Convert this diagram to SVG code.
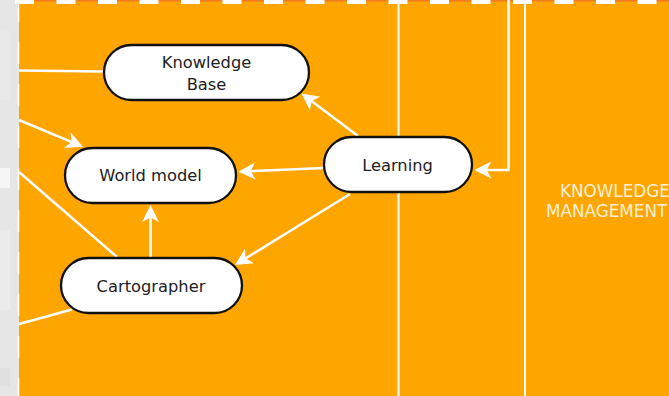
<svg xmlns="http://www.w3.org/2000/svg" width="669" height="396" viewBox="0 0 669 396">
<style>
.node rect{fill:#fff;stroke:#111;stroke-width:2.3}
.node text{font-family:"DejaVu Sans",sans-serif;font-size:16.3px;fill:#222;text-anchor:middle}
.conn line,.conn path{stroke:#fff;stroke-width:2.5;fill:none}
.lane{stroke:#fff;stroke-width:2}
.km{font-family:"DejaVu Sans",sans-serif;font-size:16.8px;fill:#fdf0d6}
</style>
<defs>
<marker id="arr" markerUnits="userSpaceOnUse" viewBox="-14 -9 20 18" refX="0" refY="0" markerWidth="20" markerHeight="18" orient="auto" overflow="visible">
<path d="M5,0 L-12,-8.5 L-7.5,0 L-12,8.5 Z" fill="#fff"/>
</marker>
</defs>
<rect x="0" y="0" width="669" height="396" fill="#e6e6e6"/>
<rect x="0" y="30" width="10" height="70" fill="#e9e9e9"/>
<rect x="0" y="168" width="10" height="20" fill="#f7f7f7"/>
<rect x="0" y="230" width="10" height="80" fill="#ebebeb"/>
<rect x="0" y="368" width="10" height="18" fill="#e0e0e0"/>
<rect x="19" y="0" width="650" height="396" fill="#ffa500"/>
<line x1="18.5" y1="0" x2="18.5" y2="396" stroke="#fff" stroke-width="1.5" stroke-dasharray="22 20"/>
<rect x="19" y="0" width="650" height="1.5" fill="#f47a22"/>
<line x1="15" y1="2" x2="669" y2="2" stroke="#fff" stroke-width="4" stroke-dasharray="19 22.5"/>
<g id="lanes">
<line class="lane" x1="398.5" y1="0" x2="398.5" y2="396"/>
<line class="lane" x1="525" y1="0" x2="525" y2="396"/>
</g>
<text class="km" x="560" y="197">KNOWLEDGE</text>
<text class="km" x="546" y="217">MANAGEMENT</text>
<g id="connectors" class="conn">
<line x1="19" y1="70.5" x2="104" y2="71.5"/>
<line x1="19" y1="120" x2="78.4" y2="144.8" marker-end="url(#arr)"/>
<line x1="19" y1="172" x2="117" y2="257"/>
<line x1="19" y1="324" x2="72" y2="309.5"/>
<line x1="358" y1="136" x2="305.5" y2="96.4" marker-end="url(#arr)"/>
<line x1="324" y1="168" x2="243.3" y2="171.5" marker-end="url(#arr)"/>
<line x1="350" y1="194" x2="239.2" y2="262.3" marker-end="url(#arr)"/>
<line x1="150.5" y1="257" x2="150.5" y2="210" marker-end="url(#arr)"/>
<path d="M508.5,0 V170 H479.3" marker-end="url(#arr)"/>
</g>
<g id="node-kb" class="node">
<rect x="104" y="45" width="205" height="55" rx="27.5"/>
<text x="206.5" y="67.5">Knowledge</text>
<text x="206.5" y="89.5">Base</text>
</g>
<g id="node-wm" class="node">
<rect x="65" y="148" width="171" height="55" rx="27.5"/>
<text x="150.5" y="180.5">World model</text>
</g>
<g id="node-learning" class="node">
<rect x="324" y="137" width="148" height="55" rx="27.5"/>
<text x="397.5" y="170.5">Learning</text>
</g>
<g id="node-carto" class="node">
<rect x="61" y="258" width="181" height="55" rx="27.5"/>
<text x="151" y="291.5">Cartographer</text>
</g>
</svg>
